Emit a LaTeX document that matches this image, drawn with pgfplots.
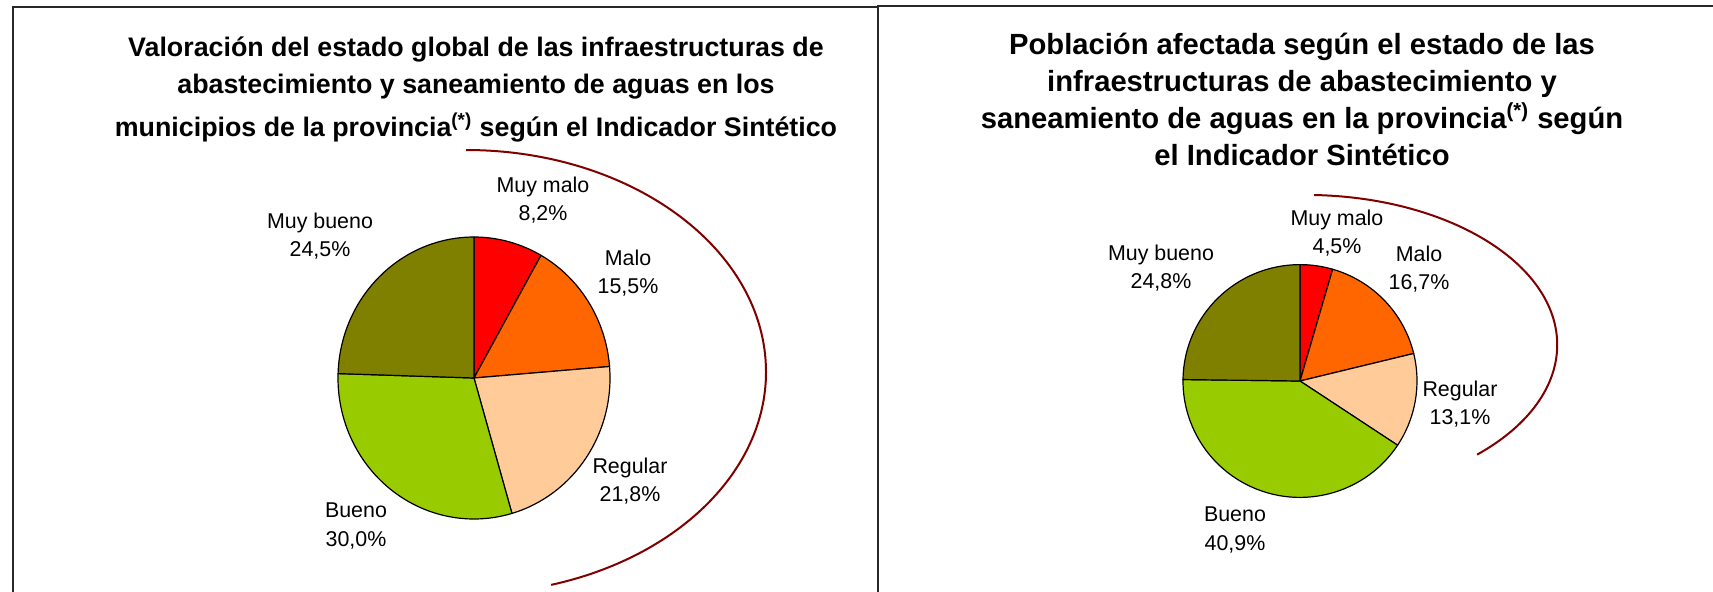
\documentclass[border=0pt]{standalone}
\usepackage{fontspec}
\setmainfont{Liberation Sans}
\usepackage{pgfplots}
\usepackage{pgfplotstable}
\pgfplotsset{compat=1.18}

\definecolor{cMuyMalo}{RGB}{255,0,0}
\definecolor{cMalo}{RGB}{255,102,0}
\definecolor{cRegular}{RGB}{255,204,153}
\definecolor{cBueno}{RGB}{153,204,0}
\definecolor{cMuyBueno}{RGB}{128,128,0}
\definecolor{cArc}{RGB}{128,0,0}
\definecolor{cFrame}{RGB}{40,40,40}

% Valoracion del estado global (municipios), %
\pgfplotstableread{
cat value
MuyMalo 8.2
Malo 15.5
Regular 21.8
Bueno 30.0
MuyBueno 24.5
}\tabMunicipios
% Poblacion afectada, %
\pgfplotstableread{
cat value
MuyMalo 4.5
Malo 16.7
Regular 13.1
Bueno 40.9
MuyBueno 24.8
}\tabPoblacion

% cumulative start/end angles (clockwise from 12 o'clock)
\newcommand\computepie[2]{%
  \pgfplotstablegetrowsof{#1}%
  \pgfmathtruncatemacro\npie{\pgfplotsretval-1}%
  \gdef\cumsum{0}%
  \foreach \i in {0,...,\npie}{%
    \pgfplotstablegetelem{\i}{value}\of{#1}%
    \pgfmathsetmacro\sA{90-3.6*\cumsum}%
    \pgfmathsetmacro\cNew{\cumsum+\pgfplotsretval}%
    \pgfmathsetmacro\eA{90-3.6*\cNew}%
    \expandafter\xdef\csname #2s\i\endcsname{\sA}%
    \expandafter\xdef\csname #2e\i\endcsname{\eA}%
    \xdef\cumsum{\cNew}%
  }%
}
% #1 cx, #2 cy (axis units), #3 rx, #4 ry (pt), #5 prefix, #6 index, #7 colour
\newcommand\slice[7]{%
  \fill[#7, draw=black, line width=0.6pt, line join=round]
    (axis cs:#1,#2) -- ++(\csname #5s#6\endcsname:#3pt and #4pt)
    arc[start angle=\csname #5s#6\endcsname, end angle=\csname #5e#6\endcsname,
        x radius=#3pt, y radius=#4pt] -- cycle;%
}

\begin{document}
\begin{tikzpicture}
\computepie{\tabMunicipios}{A}
\computepie{\tabPoblacion}{B}
\clip (0,0) rectangle (856.5pt,295.5pt);
\begin{axis}[at={(0,0)}, anchor=south west, scale only axis,
  width=856.5pt, height=295.5pt,
  xmin=0, xmax=1713, ymin=0, ymax=591, y dir=reverse,
  hide axis, clip=false]

% panel frames
\draw[cFrame, line width=1pt] (axis cs:13,620) -- (axis cs:13,7) -- (axis cs:878,7);
\draw[cFrame, line width=1pt] (axis cs:878,620) -- (axis cs:878,5.5) -- (axis cs:1730,5.5);

% ---- left pie ----
\slice{474}{378}{68}{70.5}{A}{0}{cMuyMalo}
\slice{474}{378}{68}{70.5}{A}{1}{cMalo}
\slice{474}{378}{68}{70.5}{A}{2}{cRegular}
\slice{474}{378}{68}{70.5}{A}{3}{cBueno}
\slice{474}{378}{68}{70.5}{A}{4}{cMuyBueno}
\draw[cArc, line width=1pt] (axis cs:466,150) arc[start angle=90, end angle=-73.5, x radius=150pt, y radius=111pt];

% ---- right pie ----
\slice{1300}{381}{58.5}{58.2}{B}{0}{cMuyMalo}
\slice{1300}{381}{58.5}{58.2}{B}{1}{cMalo}
\slice{1300}{381}{58.5}{58.2}{B}{2}{cRegular}
\slice{1300}{381}{58.5}{58.2}{B}{3}{cBueno}
\slice{1300}{381}{58.5}{58.2}{B}{4}{cMuyBueno}
\draw[cArc, line width=1pt] (axis cs:1314,195) arc[start angle=88, end angle=-47, x radius=126pt, y radius=75pt];

% titles
\node[align=center, font=\bfseries\fontsize{13.4}{18.7}\selectfont] at (axis cs:476,89.7)
  {Valoración del estado global de las infraestructuras de\\
   abastecimiento y saneamiento de aguas en los\\[2.7pt]
   municipios de la provincia\textsuperscript{(*)} según el Indicador Sintético};
\node[align=center, font=\bfseries\fontsize{14.6}{18.5}\selectfont] at (axis cs:1302,99)
  {Población afectada según el estado de las\\
   infraestructuras de abastecimiento y\\
   saneamiento de aguas en la provincia\textsuperscript{(*)} según\\
   el Indicador Sintético};

% labels
\tikzset{lbl/.style={align=center, font=\fontsize{10.7}{14.3}\selectfont, inner sep=0pt}}
\node[lbl] at (axis cs:543,200) {Muy malo\\8,2\%};
\node[lbl] at (axis cs:628,273) {Malo\\15,5\%};
\node[lbl] at (axis cs:630,481) {Regular\\21,8\%};
\node[lbl] at (axis cs:356,526) {Bueno\\30,0\%};
\node[lbl] at (axis cs:320,236) {Muy bueno\\24,5\%};

\node[lbl] at (axis cs:1337,233) {Muy malo\\4,5\%};
\node[lbl] at (axis cs:1419,269) {Malo\\16,7\%};
\node[lbl] at (axis cs:1460,404) {Regular\\13,1\%};
\node[lbl] at (axis cs:1235,530) {Bueno\\40,9\%};
\node[lbl] at (axis cs:1161,268) {Muy bueno\\24,8\%};
\end{axis}
\end{tikzpicture}
\end{document}
